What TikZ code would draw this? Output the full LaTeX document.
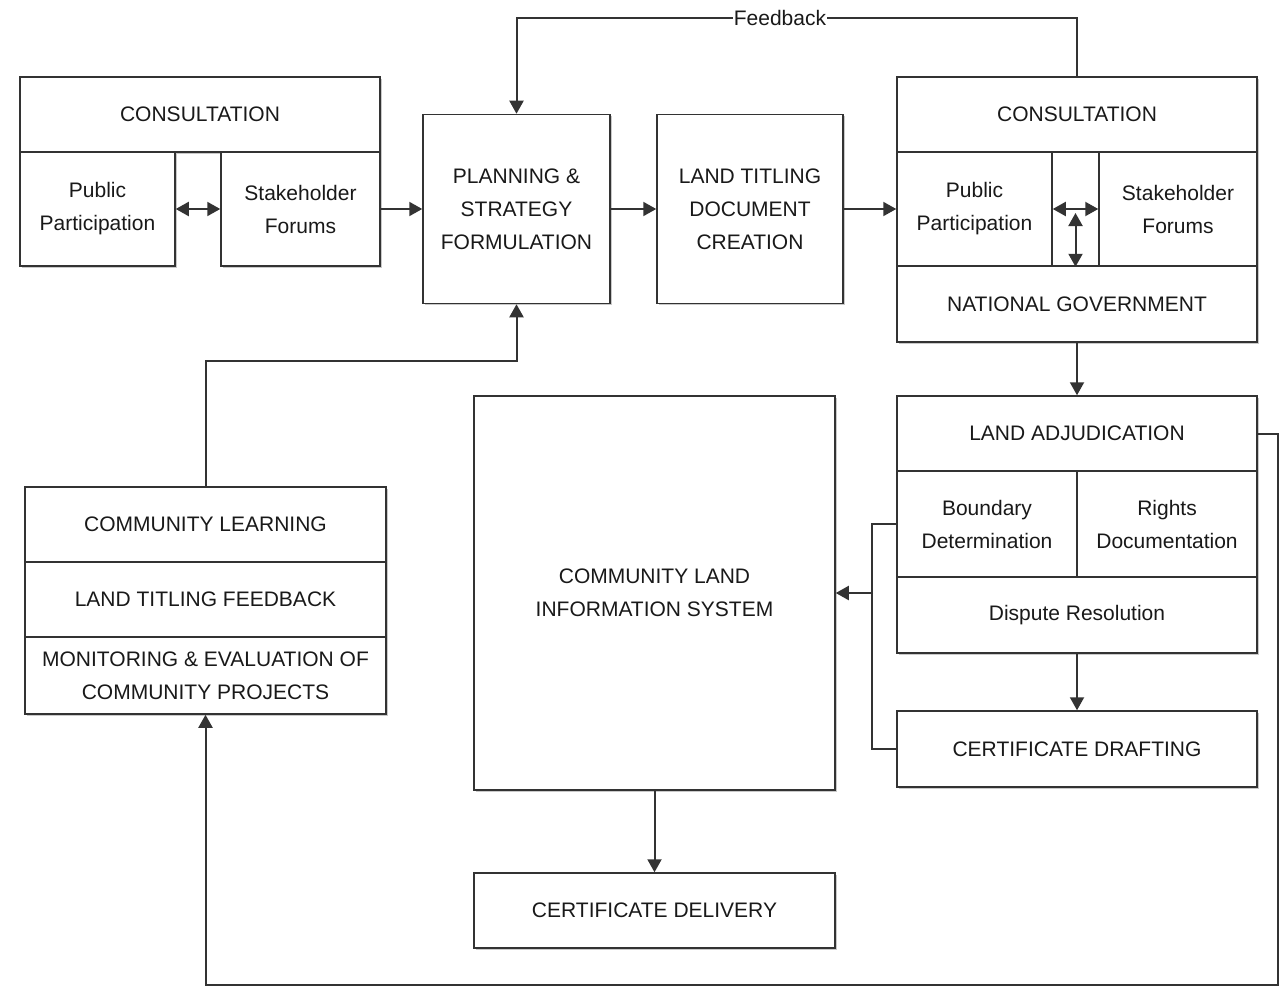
\documentclass[tikz,border=0pt]{standalone}
\usepackage{fontspec}
\setmainfont{Liberation Sans}
\usetikzlibrary{arrows.meta,shadows}
\definecolor{edge}{HTML}{333333}
\begin{document}
\begin{tikzpicture}[x=1pt,y=-1pt,
  box/.style={draw=edge, line width=1.5pt, fill=white, inner sep=0pt, align=center,
    font=\fontsize{21}{33}\selectfont, text=black!90,
    drop shadow={shadow xshift=1.6pt, shadow yshift=-1.6pt, opacity=0.35, fill=black!60}},
  conn/.style={draw=edge, line width=2pt},
  arr/.style={conn, -{Triangle[length=13pt,width=14pt]}},
  darr/.style={conn, {Triangle[length=13pt,width=14pt]}-{Triangle[length=13pt,width=14pt]}},
  lbl/.style={fill=white, inner sep=1pt, font=\fontsize{21}{25}\selectfont, text=black!90}]
\useasboundingbox (0,0) rectangle (1281,987);
\fill[white] (0,0) rectangle (1281,987);

% left consultation group
\node[box, minimum width=360pt, minimum height=75pt] (lcons) at (200,114.5) {CONSULTATION};
\node[box, minimum width=155pt, minimum height=114pt] (lpub) at (97.5,209) {Public\\Participation};
\node[box, minimum width=159pt, minimum height=114pt] (lstk) at (300.5,209) {Stakeholder\\Forums};

% central top
\node[box, minimum width=187pt, minimum height=189pt] (plan) at (516.5,209) {PLANNING \&\\STRATEGY\\FORMULATION};
\node[box, minimum width=186pt, minimum height=189pt] (ltd) at (750,209) {LAND TITLING\\DOCUMENT\\CREATION};

% right consultation group
\node[box, minimum width=360pt, minimum height=75pt] (rcons) at (1077,114.5) {CONSULTATION};
\node[box, minimum width=155pt, minimum height=114pt] (rpub) at (974.5,209) {Public\\Participation};
\node[box, minimum width=47pt, minimum height=114pt] (rmid) at (1075.5,209) {};
\node[box, minimum width=158pt, minimum height=114pt] (rstk) at (1178,209) {Stakeholder\\Forums};
\node[box, minimum width=360pt, minimum height=76pt] (natgov) at (1077,304) {NATIONAL GOVERNMENT};

% adjudication group
\node[box, minimum width=360pt, minimum height=75pt] (ladj) at (1077,433.5) {LAND ADJUDICATION};
\node[box, minimum width=180pt, minimum height=106pt] (bnd) at (987,524) {Boundary\\Determination};
\node[box, minimum width=180pt, minimum height=106pt] (rights) at (1167,524) {Rights\\Documentation};
\node[box, minimum width=360pt, minimum height=76pt] (disp) at (1077,615) {Dispute Resolution};
\node[box, minimum width=360pt, minimum height=76pt] (cdraft) at (1077,749) {CERTIFICATE DRAFTING};

% central lower
\node[box, minimum width=361pt, minimum height=394pt] (clis) at (654.5,593) {COMMUNITY LAND\\INFORMATION SYSTEM};
\node[box, minimum width=361pt, minimum height=75pt] (cdel) at (654.5,910.5) {CERTIFICATE DELIVERY};

% left lower group
\node[box, minimum width=361pt, minimum height=75pt] (clearn) at (205.5,524.5) {COMMUNITY LEARNING};
\node[box, minimum width=361pt, minimum height=75pt] (ltfb) at (205.5,599.5) {LAND TITLING FEEDBACK};
\node[box, minimum width=361pt, minimum height=77pt] (mon) at (205.5,675.5) {MONITORING \& EVALUATION OF\\COMMUNITY PROJECTS};

% connectors
\draw[darr] (lpub.east) -- (lstk.west);
\draw[arr] (lstk.east) -- (plan.west);
\draw[arr] (plan.east) -- (ltd.west);
\draw[arr] (ltd.east) -- (rpub.west);
\draw[darr] (rpub.east) -- (rstk.west);
\draw[darr] ([yshift=-4pt]rmid.center) -- (rmid.south);
\draw[arr] (rcons.north) -- ++(0,-58) -| (plan.north)
  node[lbl, pos=0.265] {Feedback};
\draw[arr] (natgov.south) -- (ladj.north);
\draw[arr] (disp.south) -- (cdraft.north);
\coordinate (j) at (873,593);
\draw[conn] (bnd.west) -- ++(-24,0) |- (cdraft.west);
\draw[arr] (j) -- (clis.east);
\draw[arr] (clis.south) -- (cdel.north);
\draw[arr] (clearn.north) -- ++(0,-125) -| (plan.south);
\draw[arr] (ladj.east) -- ++(20,0) -- ++(0,551.5) -| (mon.south);
\end{tikzpicture}
\end{document}
